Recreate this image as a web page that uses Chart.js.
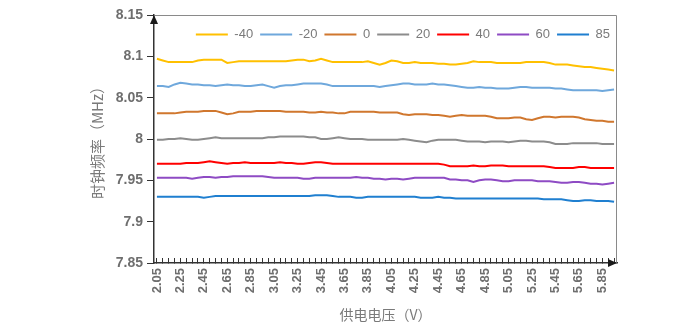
<!DOCTYPE html>
<html>
<head>
<meta charset="utf-8">
<script src="https://cdn.jsdelivr.net/npm/chart.js@4/dist/chart.umd.min.js"></script>
<style>
  html, body { margin: 0; padding: 0; background: #fff; }
  #wrap { width: 692px; height: 332px; }
</style>
</head>
<body>
<div id="wrap"><canvas id="c" width="692" height="332"></canvas></div>
<script>
'use strict';

// supply voltage (V), one point every 0.05 V
const voltages = [
  '2.05','2.10','2.15','2.20','2.25','2.30','2.35','2.40','2.45','2.50',
  '2.55','2.60','2.65','2.70','2.75','2.80','2.85','2.90','2.95','3.00',
  '3.05','3.10','3.15','3.20','3.25','3.30','3.35','3.40','3.45','3.50',
  '3.55','3.60','3.65','3.70','3.75','3.80','3.85','3.90','3.95','4.00',
  '4.05','4.10','4.15','4.20','4.25','4.30','4.35','4.40','4.45','4.50',
  '4.55','4.60','4.65','4.70','4.75','4.80','4.85','4.90','4.95','5.00',
  '5.05','5.10','5.15','5.20','5.25','5.30','5.35','5.40','5.45','5.50',
  '5.55','5.60','5.65','5.70','5.75','5.80','5.85','5.90','5.95'
];

// temperature labels
const temps = ['-40', '-20', '0', '20', '40', '60', '85'];

// clock frequency (MHz) per temperature
const freqM40 = [
  8.097,8.095,8.093,8.093,8.093,8.093,8.093,8.095,8.096,8.096,
  8.096,8.096,8.092,8.093,8.094,8.094,8.094,8.094,8.094,8.094,
  8.094,8.094,8.094,8.095,8.096,8.096,8.094,8.095,8.097,8.095,
  8.093,8.093,8.093,8.093,8.093,8.093,8.094,8.092,8.090,8.092,
  8.095,8.094,8.092,8.092,8.093,8.092,8.092,8.092,8.091,8.091,
  8.090,8.090,8.091,8.092,8.094,8.093,8.093,8.093,8.092,8.092,
  8.092,8.092,8.092,8.093,8.093,8.093,8.093,8.092,8.090,8.090,
  8.090,8.089,8.088,8.087,8.087,8.086,8.085,8.084,8.083
];
const freqM20 = [
  8.064,8.064,8.063,8.066,8.068,8.067,8.066,8.066,8.065,8.065,
  8.064,8.065,8.066,8.065,8.065,8.064,8.064,8.065,8.066,8.064,
  8.062,8.064,8.065,8.065,8.066,8.067,8.067,8.067,8.067,8.066,
  8.064,8.064,8.064,8.064,8.064,8.064,8.064,8.064,8.063,8.064,
  8.065,8.066,8.067,8.067,8.066,8.066,8.066,8.067,8.066,8.066,
  8.065,8.064,8.063,8.062,8.062,8.063,8.062,8.062,8.061,8.061,
  8.061,8.062,8.063,8.063,8.062,8.062,8.062,8.062,8.061,8.061,
  8.060,8.059,8.059,8.059,8.059,8.059,8.058,8.059,8.060
];
const freq0 = [
  8.031,8.031,8.031,8.031,8.032,8.033,8.033,8.033,8.034,8.034,
  8.034,8.032,8.030,8.031,8.033,8.033,8.033,8.034,8.034,8.034,
  8.034,8.034,8.033,8.033,8.033,8.033,8.032,8.032,8.033,8.032,
  8.032,8.031,8.031,8.033,8.033,8.033,8.033,8.033,8.032,8.032,
  8.032,8.032,8.030,8.029,8.030,8.030,8.030,8.029,8.029,8.028,
  8.027,8.028,8.029,8.028,8.028,8.028,8.028,8.027,8.025,8.025,
  8.025,8.026,8.026,8.024,8.023,8.025,8.027,8.027,8.026,8.027,
  8.027,8.027,8.026,8.024,8.023,8.022,8.022,8.021,8.021
];
const freq20 = [
  7.999,7.999,8.000,8.000,8.001,8.000,7.999,7.999,8.000,8.001,
  8.002,8.001,8.001,8.001,8.001,8.001,8.001,8.001,8.001,8.002,
  8.002,8.003,8.003,8.003,8.003,8.003,8.002,8.002,8.000,8.000,
  8.001,8.002,8.001,8.000,8.000,8.000,7.999,7.999,7.999,7.999,
  7.999,7.999,8.000,7.999,7.998,7.997,7.996,7.998,7.999,7.999,
  7.999,7.999,7.998,7.997,7.997,7.997,7.996,7.997,7.997,7.997,
  7.996,7.997,7.998,7.998,7.997,7.997,7.997,7.996,7.994,7.994,
  7.994,7.995,7.995,7.995,7.995,7.995,7.994,7.994,7.994
];
const freq40 = [
  7.970,7.970,7.970,7.970,7.970,7.971,7.971,7.971,7.972,7.973,
  7.972,7.971,7.970,7.971,7.971,7.972,7.971,7.971,7.971,7.971,
  7.971,7.972,7.971,7.971,7.970,7.970,7.971,7.972,7.972,7.971,
  7.970,7.970,7.970,7.970,7.970,7.970,7.970,7.970,7.970,7.970,
  7.970,7.970,7.970,7.970,7.970,7.970,7.970,7.970,7.970,7.969,
  7.967,7.967,7.967,7.967,7.968,7.967,7.967,7.968,7.968,7.968,
  7.967,7.967,7.967,7.967,7.967,7.967,7.967,7.966,7.965,7.965,
  7.965,7.965,7.966,7.966,7.965,7.965,7.965,7.965,7.965
];
const freq60 = [
  7.953,7.953,7.953,7.953,7.953,7.953,7.952,7.953,7.954,7.954,
  7.953,7.954,7.954,7.955,7.955,7.955,7.955,7.955,7.955,7.954,
  7.953,7.953,7.953,7.953,7.953,7.952,7.952,7.953,7.953,7.953,
  7.953,7.953,7.953,7.953,7.954,7.953,7.953,7.952,7.952,7.951,
  7.952,7.952,7.951,7.952,7.953,7.953,7.953,7.953,7.953,7.953,
  7.951,7.951,7.950,7.950,7.948,7.950,7.951,7.951,7.950,7.949,
  7.949,7.950,7.950,7.950,7.950,7.949,7.949,7.949,7.948,7.947,
  7.947,7.948,7.948,7.947,7.946,7.946,7.945,7.946,7.947
];
const freq85 = [
  7.930,7.930,7.930,7.930,7.930,7.930,7.930,7.930,7.929,7.930,
  7.931,7.931,7.931,7.931,7.931,7.931,7.931,7.931,7.931,7.931,
  7.931,7.931,7.931,7.931,7.931,7.931,7.931,7.932,7.932,7.932,
  7.931,7.930,7.930,7.930,7.929,7.929,7.930,7.930,7.930,7.930,
  7.930,7.930,7.930,7.930,7.930,7.929,7.929,7.929,7.930,7.929,
  7.929,7.928,7.928,7.928,7.928,7.928,7.928,7.928,7.928,7.928,
  7.928,7.928,7.928,7.928,7.928,7.928,7.927,7.927,7.927,7.927,
  7.926,7.925,7.925,7.926,7.926,7.925,7.925,7.925,7.924
];

const seriesData = [freqM40, freqM20, freq0, freq20, freq40, freq60, freq85];
const seriesColors = ['#FFC000', '#6FA8DC', '#D0772E', '#8C8C8C', '#FF0000', '#8E4BC4', '#1F7FD0'];

Chart.defaults.font.family = '"Liberation Sans", Arial, sans-serif';
Chart.defaults.color = '#737373';

// legend drawn over the plot, takes no layout space
const legendInside = {
  id: 'legendInside',
  beforeInit(chart) {
    const fit = chart.legend.fit;
    chart.legend.fit = function () {
      fit.call(this);
      this._realHeight = this.height;
      this.height = 0;
    };
  },
  afterLayout(chart) {
    const lg = chart.legend;
    lg.top += 6;
    lg.height = lg._realHeight;
    lg.bottom = lg.top + lg.height;
  }
};

// plot frame + axis arrows
const frameArrows = {
  id: 'frameArrows',
  afterDraw(chart) {
    const ctx = chart.ctx;
    const a = chart.chartArea;
    ctx.save();
    ctx.strokeStyle = '#8a8a8a';
    ctx.lineWidth = 1;
    ctx.beginPath();
    ctx.moveTo(a.left, a.top + 0.5);
    ctx.lineTo(a.right - 0.5, a.top + 0.5);
    ctx.lineTo(a.right - 0.5, a.bottom);
    ctx.stroke();
    ctx.fillStyle = '#1a1a1a';
    ctx.beginPath();
    ctx.moveTo(a.left, a.top);
    ctx.lineTo(a.left - 4, a.top + 9);
    ctx.lineTo(a.left + 4, a.top + 9);
    ctx.closePath();
    ctx.fill();
    ctx.beginPath();
    ctx.moveTo(a.right, a.bottom);
    ctx.lineTo(a.right - 9, a.bottom - 4);
    ctx.lineTo(a.right - 9, a.bottom + 4);
    ctx.closePath();
    ctx.fill();
    ctx.restore();
  }
};

const ctx = document.getElementById('c').getContext('2d');

new Chart(ctx, {
  type: 'line',
  data: {
    labels: voltages,
    datasets: temps.map((t, i) => ({
      label: t,
      data: seriesData[i],
      borderColor: seriesColors[i],
      backgroundColor: seriesColors[i],
      borderWidth: 2,
      pointRadius: 0,
      tension: 0
    }))
  },
  options: {
    responsive: false,
    animation: false,
    layout: { padding: { left: 0, top: 15, right: 75, bottom: 0 } },
    plugins: {
      tooltip: { enabled: false },
      legend: {
        position: 'top',
        align: 'end',
        labels: {
          usePointStyle: true,
          pointStyle: 'line',
          pointStyleWidth: 32,
          boxHeight: 13,
          padding: 7,
          color: '#7a7a7a',
          font: { size: 13 }
        }
      }
    },
    scales: {
      x: {
        offset: true,
        grid: {
          offset: false,
          drawOnChartArea: false,
          drawTicks: true,
          tickLength: -5,
          color: '#333'
        },
        border: { color: '#333', width: 1.5 },
        ticks: {
          autoSkip: false,
          minRotation: 90,
          maxRotation: 90,
          padding: 10,
          color: '#6e6e6e',
          font: { size: 13, weight: 'bold' },
          callback: function (val, idx) {
            return idx % 4 === 0 ? this.getLabelForValue(val) : '';
          }
        },
        title: {
          display: true,
          text: '供电电压（V）',
          color: '#7a7a7a',
          font: { family: '"Noto Sans CJK SC", sans-serif', size: 14 },
          padding: { top: 0, bottom: 9 }
        },
        afterFit(scale) { scale.height = 69; }
      },
      y: {
        min: 7.85,
        max: 8.15,
        grid: {
          drawOnChartArea: false,
          drawTicks: true,
          tickLength: 7,
          color: '#333'
        },
        border: { color: '#333', width: 1.5 },
        ticks: {
          stepSize: 0.05,
          padding: 4,
          color: '#6e6e6e',
          font: { size: 14, weight: 'bold' },
          callback: (v) => String(Number(v.toFixed(2)))
        },
        title: {
          display: true,
          text: '时钟频率（MHz）',
          color: '#7a7a7a',
          font: { family: '"Noto Sans CJK SC", sans-serif', size: 15 },
          padding: { top: 88, bottom: 0 }
        },
        afterFit(scale) { scale.width = 154; }
      }
    }
  },
  plugins: [legendInside, frameArrows]
});
</script>
</body>
</html>
